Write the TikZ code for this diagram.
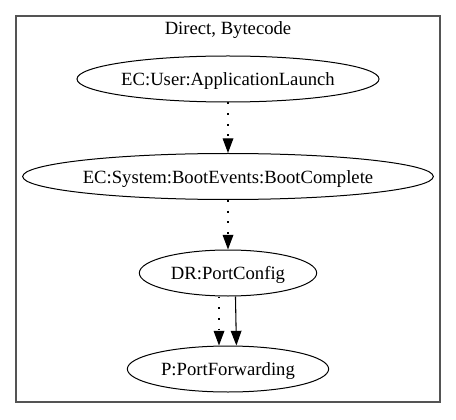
\documentclass[tikz,border=0pt]{standalone}
\usepackage{fontspec}
\setmainfont{Liberation Serif}
\usetikzlibrary{shapes.geometric,arrows.meta}
\definecolor{clustergray}{gray}{0.33}

\tikzset{
  evnode/.style={draw, ellipse, line width=0.75pt, inner sep=0pt,
    minimum height=34.5pt, text height=10pt, text depth=0pt,
    font=\fontsize{14}{17}\selectfont},
  dotedge/.style={->, line width=0.9pt, dash pattern=on 1.4pt off 6.6pt},
  solidedge/.style={->, line width=0.8pt}
}

\begin{document}
\begin{tikzpicture}[x=0.75pt, y=-0.75pt, >={Triangle[length=11pt,width=8pt]}]

  \useasboundingbox (0,0) rectangle (456,420);

  % cluster
  \draw[color=clustergray, line width=1.4pt] (16,16) rectangle (440,402);
  \node[anchor=base, font=\fontsize{14}{17}\selectfont] (title) at (228,35) {Direct, Bytecode};

  % events and permission
  \node[evnode, minimum width=226.5pt] (launch) at (228,79) {EC:User:ApplicationLaunch};
  \node[evnode, minimum width=302pt] (boot) at (228,176.5) {EC:System:BootEvents:BootComplete};
  \node[evnode, minimum width=133pt] (portcfg) at (228,273) {DR:PortConfig};
  \node[evnode, minimum width=151pt] (portfwd) at (228,369) {P:PortForwarding};

  % edges
  \draw[dotedge] (launch) -- (boot);
  \draw[dotedge] (boot) -- (portcfg);
  \draw[dotedge] ([xshift=-6.75pt]portcfg.south) -- ([xshift=-6.75pt]portfwd.north);
  \draw[solidedge] ([xshift=5.6pt]portcfg.south) -- ([xshift=6.3pt]portfwd.north);

\end{tikzpicture}
\end{document}
